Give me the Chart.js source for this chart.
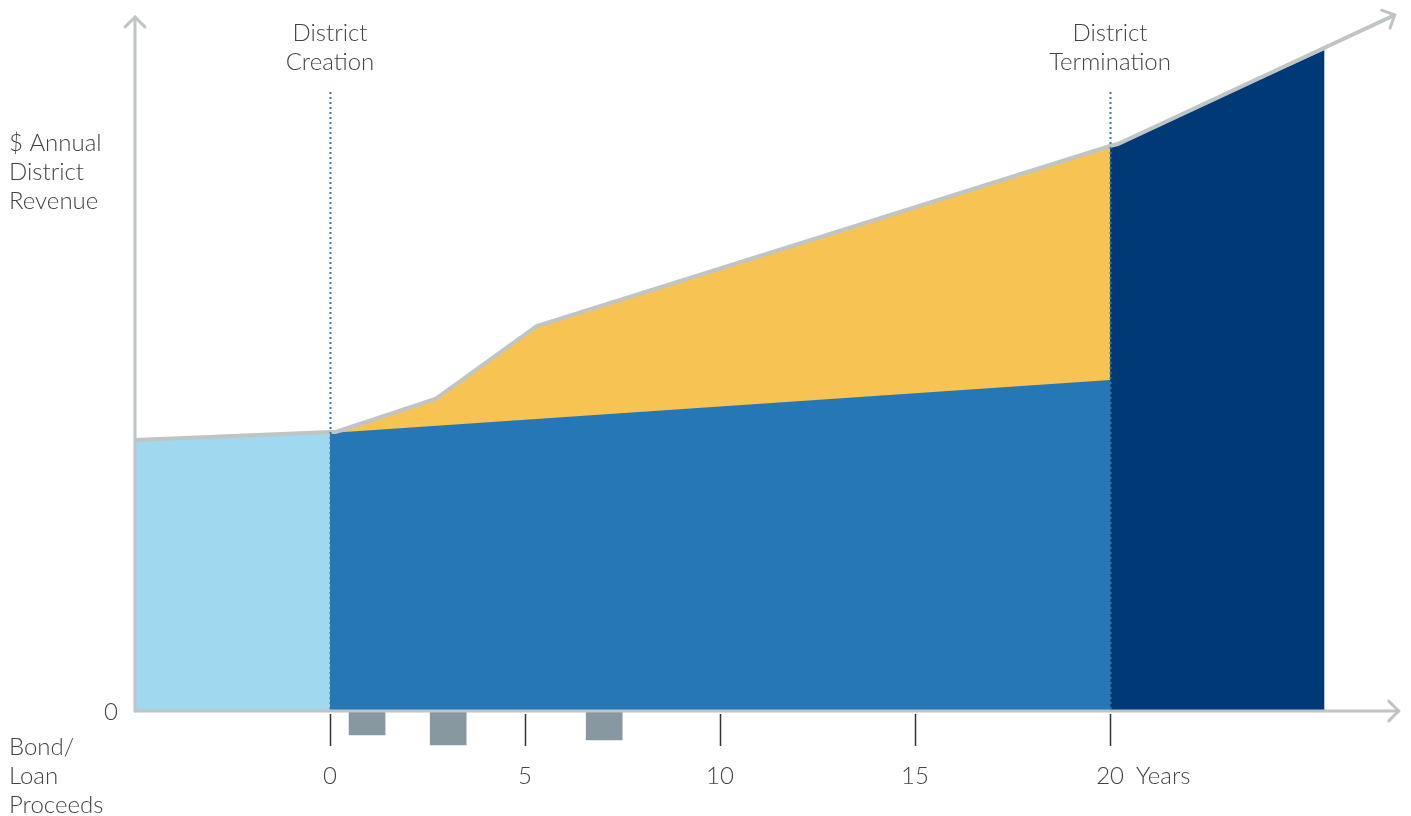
<!DOCTYPE html>
<html>
<head>
<meta charset="utf-8">
<script src="https://cdn.jsdelivr.net/npm/chart.js@4.4.1/dist/chart.umd.min.js"></script>
<style>
  html, body { margin: 0; padding: 0; background: #ffffff; }
  #wrap { width: 1411px; height: 816px; position: relative; }
</style>
</head>
<body>
<div id="wrap"><canvas id="c" width="1411" height="816"></canvas></div>
<script>
// ---- data (years on x, relative revenue units on y) ----
const preDistrict   = [{x: -5, y: 270}, {x: 0, y: 278}];
const baseRevenue   = [{x: 0, y: 278}, {x: 20, y: 331}];
const increment     = [{x: 0, y: 278}, {x: 2.7, y: 311}, {x: 5.3, y: 384}, {x: 20, y: 564}];
const postDistrict  = [{x: 20, y: 564}, {x: 25.5, y: 661}];
const outline       = [{x: -5, y: 271}, {x: 0, y: 279}, {x: 0.15, y: 279}, {x: 2.7, y: 312},
                       {x: 5.3, y: 385}, {x: 20, y: 565}, {x: 20.2, y: 567}, {x: 27.3, y: 696}];
const bondYears     = [0.95, 3.03, 7.03];
const bondProceeds  = [-24, -34, -29];
const tickYears     = [0, 5, 10, 15, 20];
const tickLabels    = ['0', '5', '10', '15', '20'];
const eventYears    = [0, 20];
const eventLabels   = [['District', 'Creation'], ['District', 'Termination']];
const yAxisLabel    = ['$ Annual', 'District', 'Revenue'];
const bondLabel     = ['Bond/', 'Loan', 'Proceeds'];

const FONT = '300 24px Lato, "Open Sans", sans-serif';
const TEXT = '#444444';
const AXIS = '#c0c4c4';

function chevron(ctx, x, y, ang, len) {
  ctx.beginPath();
  ctx.moveTo(x - len * Math.cos(ang - Math.PI / 4), y - len * Math.sin(ang - Math.PI / 4));
  ctx.lineTo(x, y);
  ctx.lineTo(x - len * Math.cos(ang + Math.PI / 4), y - len * Math.sin(ang + Math.PI / 4));
  ctx.stroke();
}

const decor = {
  id: 'decor',
  afterDatasetsDraw(chart) {
    const ctx = chart.ctx, xs = chart.scales.x, ys = chart.scales.y;
    const y0 = ys.getPixelForValue(0);
    ctx.save();
    // dotted event lines
    ctx.strokeStyle = '#3b78a6';
    ctx.lineWidth = 2;
    ctx.setLineDash([2, 3]);
    eventYears.forEach(v => {
      const px = Math.round(xs.getPixelForValue(v)) + 0.5;
      ctx.beginPath(); ctx.moveTo(px, 92); ctx.lineTo(px, y0); ctx.stroke();
    });
    ctx.setLineDash([]);
    // axes
    ctx.strokeStyle = AXIS;
    ctx.lineWidth = 3;
    ctx.lineCap = 'round';
    const xLeft = xs.getPixelForValue(-5);
    const xRight = xs.getPixelForValue(27.4);
    ctx.beginPath(); ctx.moveTo(xLeft, y0); ctx.lineTo(xRight, y0); ctx.stroke();
    chevron(ctx, xRight, y0, 0, 14);
    const yTop = ys.getPixelForValue(694);
    ctx.beginPath(); ctx.moveTo(xLeft, y0); ctx.lineTo(xLeft, yTop); ctx.stroke();
    chevron(ctx, xLeft, yTop, -Math.PI / 2, 14);
    // arrow at end of outline
    const n = outline.length;
    const ax = xs.getPixelForValue(outline[n - 1].x), ay = ys.getPixelForValue(outline[n - 1].y);
    const bx = xs.getPixelForValue(outline[n - 2].x), by = ys.getPixelForValue(outline[n - 2].y);
    chevron(ctx, ax, ay, Math.atan2(ay - by, ax - bx), 14);
    // ticks
    ctx.lineCap = 'butt';
    ctx.strokeStyle = '#333333';
    ctx.lineWidth = 1.5;
    tickYears.forEach(v => {
      const px = Math.round(xs.getPixelForValue(v)) + 0.5;
      ctx.beginPath(); ctx.moveTo(px, y0 + 3); ctx.lineTo(px, y0 + 35); ctx.stroke();
    });
    // text
    ctx.font = FONT;
    ctx.fillStyle = TEXT;
    ctx.textBaseline = 'middle';
    ctx.textAlign = 'center';
    tickYears.forEach((v, i) => ctx.fillText(tickLabels[i], xs.getPixelForValue(v), 776));
    ctx.textAlign = 'left';
    ctx.fillText('Years', xs.getPixelForValue(20) + 26, 776);
    ctx.textAlign = 'right';
    ctx.fillText('0', 118, y0 + 1);
    ctx.textAlign = 'center';
    eventYears.forEach((v, i) => {
      const px = xs.getPixelForValue(v);
      eventLabels[i].forEach((t, j) => ctx.fillText(t, px, 33 + j * 29));
    });
    ctx.textAlign = 'left';
    yAxisLabel.forEach((t, j) => ctx.fillText(t, 9, 143 + j * 29));
    bondLabel.forEach((t, j) => ctx.fillText(t, 9, 747 + j * 29));
    ctx.restore();
  }
};

new Chart(document.getElementById('c'), {
  type: 'line',
  data: {
    datasets: [
      { label: 'outline', data: outline, borderColor: '#bfc4c4', borderWidth: 4, fill: false,
        pointRadius: 0, tension: 0, order: 0 },
      { type: 'bar', label: 'bond', data: bondYears.map((x, i) => ({x: x, y: bondProceeds[i]})),
        backgroundColor: '#8798a0', barThickness: 36, order: 1 },
      { label: 'pre', data: preDistrict, backgroundColor: '#a0d8f0', borderWidth: 0, borderColor: 'rgba(0,0,0,0)',
        fill: 'origin', pointRadius: 0, tension: 0, order: 2 },
      { label: 'base', data: baseRevenue, backgroundColor: '#2577b5', borderWidth: 0, borderColor: 'rgba(0,0,0,0)',
        fill: 'origin', pointRadius: 0, tension: 0, order: 3 },
      { label: 'increment', data: increment, backgroundColor: '#f7c454', borderWidth: 0, borderColor: 'rgba(0,0,0,0)',
        fill: 'origin', pointRadius: 0, tension: 0, order: 4 },
      { label: 'post', data: postDistrict, backgroundColor: '#003a76', borderWidth: 0, borderColor: 'rgba(0,0,0,0)',
        fill: 'origin', pointRadius: 0, tension: 0, order: 5 }
    ]
  },
  options: {
    responsive: false,
    animation: false,
    devicePixelRatio: 1,
    layout: { padding: { left: 135, right: 10, top: 1, bottom: 45 } },
    plugins: { legend: { display: false }, tooltip: { enabled: false } },
    scales: {
      x: { type: 'linear', min: -5, max: 27.46, display: false, offset: false },
      y: { type: 'linear', min: -60, max: 710, display: false }
    }
  },
  plugins: [decor]
});
</script>
</body>
</html>
